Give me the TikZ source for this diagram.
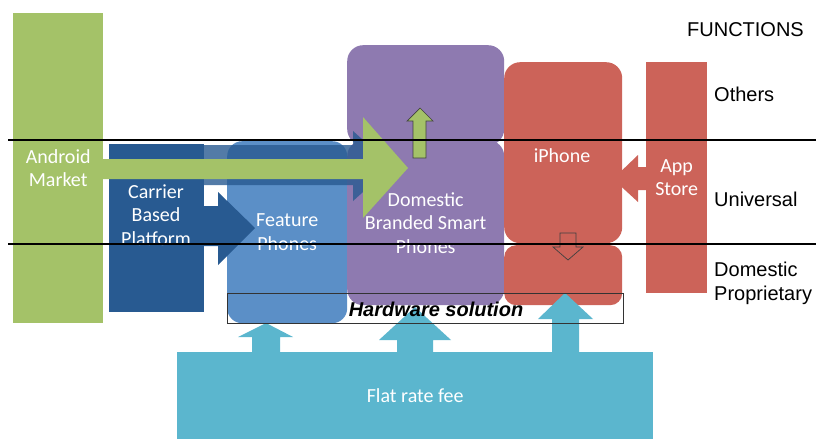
\documentclass[tikz,border=0pt]{standalone}
\usepackage{fontspec}
\usepackage{tikz}
\setmainfont{Carlito}
\newfontfamily\labelfont{Liberation Sans}

\definecolor{andgreen}{RGB}{164,194,104}
\definecolor{carrierblue}{RGB}{40,90,145}
\definecolor{featureblue}{RGB}{91,143,199}
\definecolor{dompurple}{RGB}{142,122,176}
\definecolor{appred}{RGB}{204,99,89}
\definecolor{flatcyan}{RGB}{91,182,206}

\begin{document}
\begin{tikzpicture}[x=1pt,y=-1pt]
            \useasboundingbox (0,0) rectangle (816,439);

            \begin{scope}[every node/.style={inner sep=0pt,anchor=north west,text=white,align=center,
                              font=\fontsize{20}{23.5}\selectfont}]
                \node[fill=flatcyan, minimum width=476pt, minimum height=87pt] (flat) at (177,352) {Flat rate fee};
                \node[fill=andgreen, minimum width=90pt, minimum height=310pt] (android) at (13,13) {Android\\Market};
                \node[fill=carrierblue, minimum width=95pt, minimum height=168pt] (carrier) at (109,144) {};
                \node[fill=featureblue, rounded corners=15pt, minimum width=120pt, minimum height=182pt] (feature) at (227,141) {Feature\\Phones};
                \node[fill=dompurple, rounded corners=16pt, minimum width=157pt, minimum height=100pt] (domtop) at (347,45) {};
                \node[fill=dompurple, rounded corners=16pt, minimum width=157pt, minimum height=165pt] (dombot) at (347,140) {Domestic\\Branded Smart\\Phones};
                \node[fill=appred, rounded corners=16pt, minimum width=118pt, minimum height=181pt] (iphone) at (504,62) {};
                \node[fill=appred, rounded corners=12pt, minimum width=118pt, minimum height=60pt] (iphonelow) at (504,245) {};
                \node[fill=appred, minimum width=61pt, minimum height=231pt] (appstore) at (646,62) {App\\Store};
            \end{scope}

            \begin{scope}[every node/.style={inner sep=0pt,text=white,align=center,
                              font=\fontsize{20}{23.5}\selectfont}]
                \node (carrierlbl) at (156,215) {Carrier\\Based\\Platform};
                \node (iphonelbl) at (562,156) {iPhone};
            \end{scope}

            % block arrows
            \fill[carrierblue] (204,206) -- (218,206) -- (218,192) -- (255,228) -- (218,265) -- (218,246) -- (204,246) -- cycle;
            \fill[appred] (613,179) -- (638,155) -- (638,167) -- (646,167) -- (646,190) -- (638,190) -- (638,202) -- cycle;
            \fill[carrierblue, opacity=.8] (204,145) -- (353,145) -- (353,131) -- (392,166) -- (353,201) -- (353,185) -- (204,185) -- cycle;
            \fill[andgreen] (103,159) -- (363,159) -- (363,117) -- (408,168) -- (363,218) -- (363,179) -- (103,179) -- cycle;
            \filldraw[fill=andgreen, draw=black!75, line width=.7pt]
                (413,158) -- (426,158) -- (426,121) -- (433,121) -- (420,108) -- (407,121) -- (413,121) -- cycle;
            \filldraw[fill=appred, draw=black!75, line width=.7pt]
                (560,233) -- (576,233) -- (576,247) -- (583,247) -- (568,260) -- (553,247) -- (560,247) -- cycle;

            \begin{scope}[every path/.style={fill=flatcyan}]
                \fill (252,353) -- (252,337) -- (238,337) -- (266,323) -- (293,337) -- (280,337) -- (280,353) -- cycle;
                \fill (397,353) -- (397,340) -- (379,340) -- (415,307) -- (451,340) -- (433,340) -- (433,353) -- cycle;
                \fill (552,355) -- (552,319) -- (538,319) -- (565,293) -- (593,319) -- (579,319) -- (579,355) -- cycle;
            \end{scope}

            \begin{scope}[every node/.style={inner sep=0pt,text=black,font=\labelfont\fontsize{20}{24}\selectfont}]
                \node[draw=black!80, line width=.8pt, anchor=north west, minimum width=396pt, minimum height=30pt] (hw) at (227,293) {};
                \node (hwlbl) at (436,309) {\bfseries\itshape Hardware solution};
                \node[anchor=east] (functions) at (804,30) {FUNCTIONS};
                \node[anchor=west] (others) at (714,94) {Others};
                \node[anchor=west] (universal) at (714,199) {Universal};
                \node[anchor=west, align=left] (proprietary) at (714,283) {Domestic\\Proprietary};
            \end{scope}

            % borders between the function levels
            \coordinate (topw) at (8,140);
            \coordinate (tope) at (816,140);
            \coordinate (botw) at (8,244);
            \coordinate (bote) at (816,244);
            \draw[line width=1.5pt] (topw) -- (tope);
            \draw[line width=1.5pt] (botw) -- (bote);
\end{tikzpicture}
\end{document}
